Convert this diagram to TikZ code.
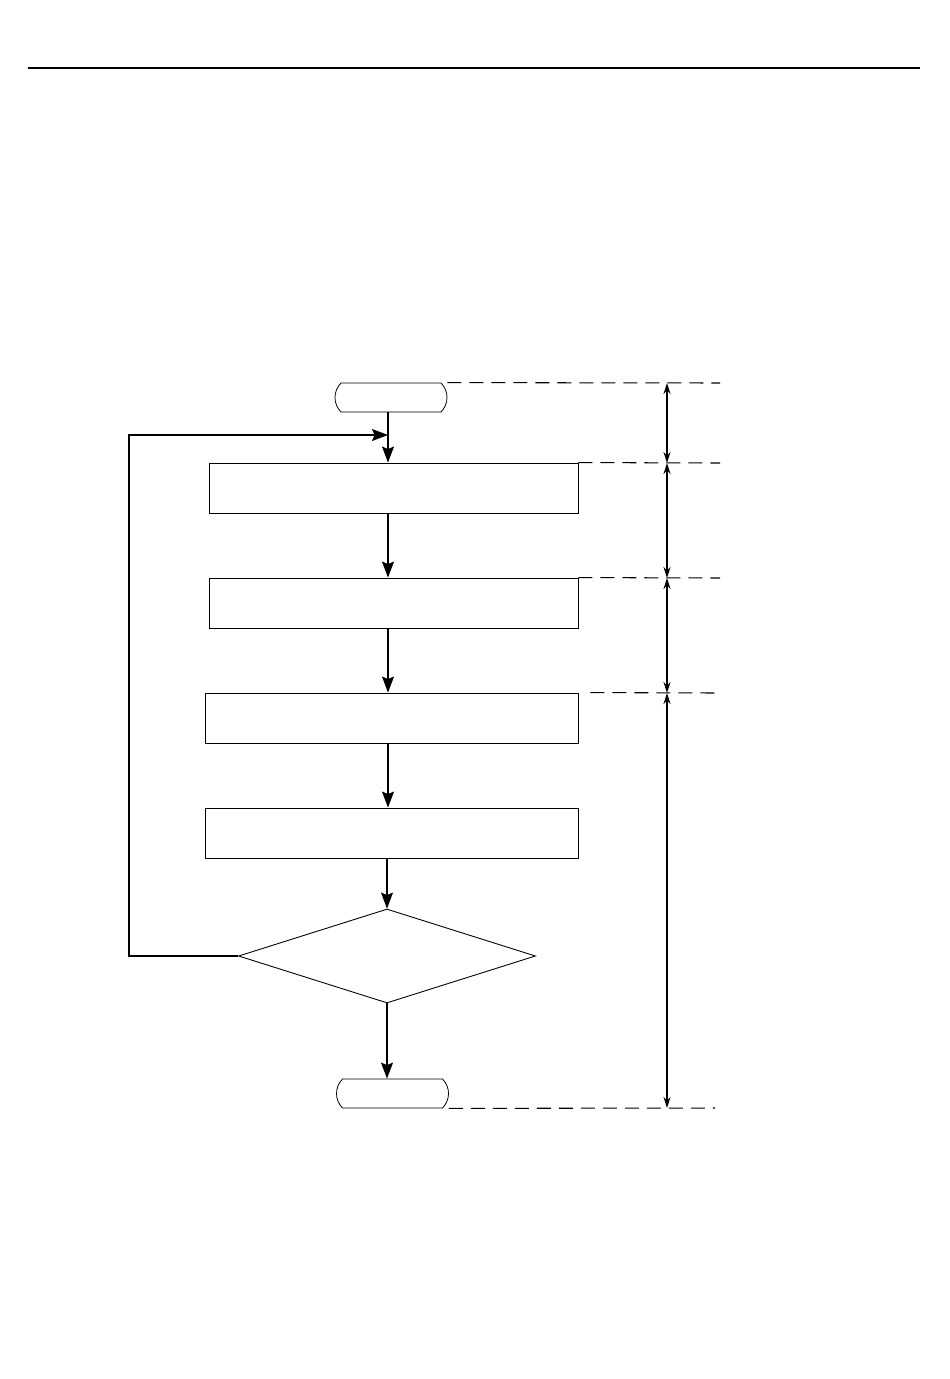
\documentclass[tikz,border=0pt]{standalone}
\usepackage{tikz}
\usetikzlibrary{arrows.meta,positioning}
\usetikzlibrary{shapes.geometric,shapes.misc}

\begin{document}
\begin{tikzpicture}[x=0.2mm,y=-0.2mm,
	box/.style={rectangle, draw=black, line width=0.5pt, minimum width=73.8mm, minimum height=10mm, inner sep=0},
	wide/.style={box, minimum width=74.6mm},
	term/.style={rounded rectangle, rounded rectangle arc length=90, draw=black, line width=0.45pt, minimum width=22.4mm, minimum height=5.8mm, inner sep=0},
	cond/.style={diamond, draw=black, line width=0.5pt, minimum width=59.4mm, minimum height=18.8mm, inner sep=0},
	flow/.style={-{Stealth[length=3.2mm,width=2.4mm,inset=0.5mm]}, line width=0.6pt},
	dim/.style={{Stealth[length=2.2mm,width=1.4mm]}-{Stealth[length=2.2mm,width=1.4mm]}, line width=0.7pt},
	guide/.style={dash pattern=on 2.8mm off 1.6mm, line width=0.6pt}]
		\useasboundingbox (0,0) rectangle (950,1379);
		\draw[line width=1.2pt] (28,68) -- (920,68);

		\node[term] (start) at (391,397.5) {};
		\node[box] (b1) at (393.5,488) {};
		\node[box] (b2) at (393.5,603) {};
		\node[wide] (b3) at (391.5,718) {};
		\node[wide] (b4) at (391.5,833) {};
		\node[cond] (dec) at (387,956) {};
		\node[term] (stop) at (392.5,1093.5) {};

		\coordinate (j) at (388,435);
		\coordinate (lc) at (129,435);

		\draw[flow] (start.south -| j) -- (b1.north -| j);
		\draw[flow] (b1.south -| j) -- (b2.north -| j);
		\draw[flow] (b2.south -| j) -- (b3.north -| j);
		\draw[flow] (b3.south -| j) -- (b4.north -| j);
		\draw[flow] (b4.south -| dec.north) -- (dec.north);
		\draw[flow] (dec.south) -- (stop.north -| dec.south);
		\draw[flow] (dec.west) -| (lc) -- (j);

		\coordinate (d0) at (667,383);
		\coordinate (d1) at (667,463);
		\coordinate (d2) at (667,578);
		\coordinate (d3) at (667,693);
		\coordinate (d4) at (667,1108);

		\draw[guide] (start.east |- start.north) -- (720,383);
		\draw[guide] (b1.north east) -- (720,463);
		\draw[guide] (b2.north east) -- (720,578);
		\draw[guide] ([xshift=2.4mm]b3.north east) -- (715,693);
		\draw[guide] (stop.east |- stop.south) -- (715,1108);

		\foreach \a/\b in {d0/d1,d1/d2,d2/d3,d3/d4}
			\draw[dim] (\a) -- (\b);
	\end{tikzpicture}
\end{document}
